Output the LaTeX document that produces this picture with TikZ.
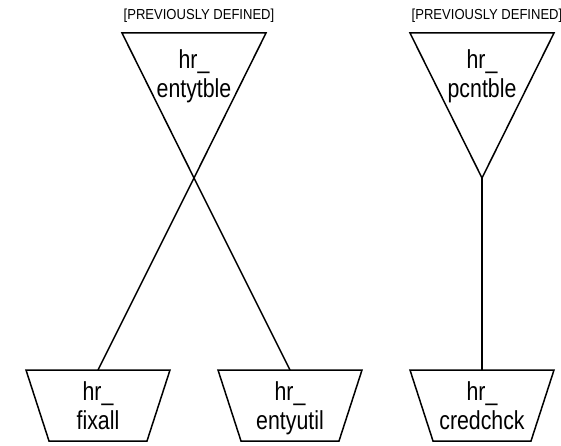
\documentclass[tikz,border=0pt]{standalone}
\usepackage{fontspec}
\setmainfont{Liberation Sans}[FakeStretch=0.9]
\newfontfamily\tblfont{Liberation Sans}[FakeStretch=0.82]
\usepackage{tikz}

\tikzset{
  tbl/.style={draw=black,line width=1.5pt,line join=miter},
  link/.style={draw=black,line width=1.5pt},
  lbl/.style={font=\tblfont\fontsize{26}{29}\selectfont,align=center,inner sep=0pt},
  note/.style={font=\fontsize{14.5}{17}\selectfont,inner sep=0pt,anchor=base}
}

\begin{document}
\begin{tikzpicture}[x=1pt,y=-1pt]
 \useasboundingbox (0,0) rectangle (561,446);
 % parent tables (pointing down)
 \foreach \n/\cx in {entytble/194,pcntble/482}{
   \draw[tbl] (\cx-72,33) -- (\cx+72,33) -- (\cx,178) coordinate (\n-apex) -- cycle;
   \node[lbl] (\n) at (\cx,77) {hr\_\strut\\\n\strut};
   \node[note] (\n-note) at (\cx+5,20) {[PREVIOUSLY DEFINED]};
 }
 % child tables
 \foreach \n/\cx in {fixall/98,entyutil/290,credchck/482}{
   \draw[tbl] (\cx-72,370) -- (\cx+72,370) -- (\cx+49,441) -- (\cx-49,441) -- cycle;
   \coordinate (\n-top) at (\cx,370);
   \node[lbl] (\n) at (\cx,409.5) {hr\_\strut\\\n\strut};
 }
 \draw[link] (entytble-apex) -- (fixall-top);
 \draw[link] (entytble-apex) -- (entyutil-top);
 \draw[link] (pcntble-apex) -- (credchck-top);
\end{tikzpicture}
\end{document}
